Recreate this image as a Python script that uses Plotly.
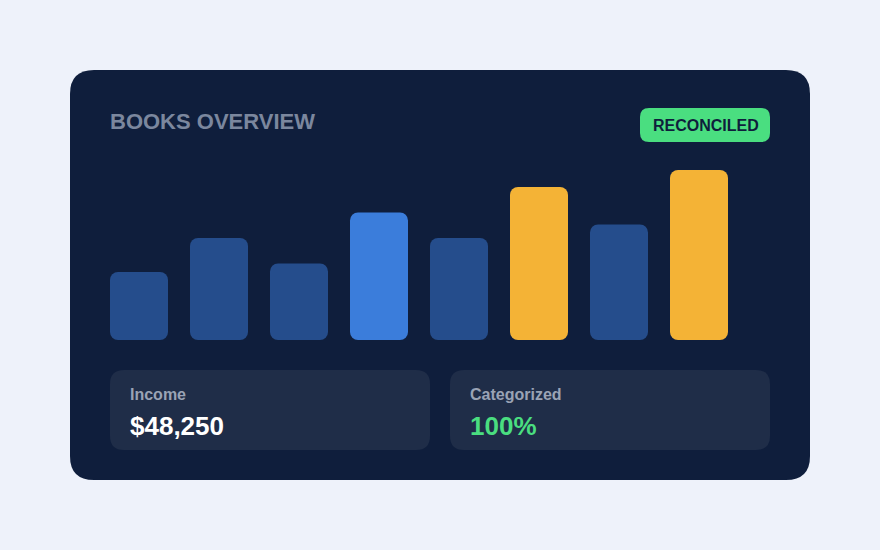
import plotly.graph_objects as go

# Bar data for the books overview card
periods = ["Jan", "Feb", "Mar", "Apr", "May", "Jun", "Jul", "Aug"]
amounts = [40, 60, 45, 75, 60, 90, 68, 100]
status = ["normal", "normal", "normal", "current", "normal", "peak", "normal", "peak"]

# Summary tiles
stat_labels = ["Income", "Categorized"]
stat_values = ["$48,250", "100%"]
badge_text = "RECONCILED"
card_title = "BOOKS OVERVIEW"

W, H = 880, 550
PAGE_BG = "#EEF2FA"
CARD_BG = "#0F1E3C"
TILE_BG = "#1F2D48"
GREEN = "#4ADE80"
status_colors = {"normal": "#254D8C", "current": "#3B7DDB", "peak": "#F4B336"}
bar_colors = [status_colors[s] for s in status]
FONT = "Liberation Sans, Arial, sans-serif"

# bar area in pixels: baseline at 340, value 100 reaches 170
BASE_PX, TOP_PX = 340, 170
RADIUS = 8
units_per_px = 100 / (BASE_PX - TOP_PX)
stub = 10 * units_per_px  # small negative piece so the bottom corners get rounded too


def px(x):
    return x / W


def py(y):
    return 1 - y / H


def rounded_rect(x0, y0, x1, y1, r, color):
    # rounded rectangle in paper coords, given pixel box
    rx, ry = r / W, r / H
    a, b, c, d = px(x0), py(y1), px(x1), py(y0)  # left, bottom, right, top
    path = (
        f"M {a + rx},{b} L {c - rx},{b} Q {c},{b} {c},{b + ry} "
        f"L {c},{d - ry} Q {c},{d} {c - rx},{d} "
        f"L {a + rx},{d} Q {a},{d} {a},{d - ry} "
        f"L {a},{b + ry} Q {a},{b} {a + rx},{b} Z"
    )
    return dict(type="path", path=path, xref="paper", yref="paper",
                fillcolor=color, line=dict(width=0), layer="below")


fig = go.Figure()

# upper part of each bar (rounded top); the axis is shifted by the stub so the
# whole visible bar still spans 0..amount
fig.add_trace(go.Bar(
    x=periods, y=[v - stub for v in amounts],
    marker=dict(color=bar_colors, cornerradius=RADIUS, line=dict(width=0)),
    hoverinfo="skip",
))
# bottom stub (rounded bottom)
fig.add_trace(go.Bar(
    x=periods, y=[-stub] * len(periods),
    marker=dict(color=bar_colors, cornerradius=RADIUS, line=dict(width=0)),
    hoverinfo="skip",
))

shapes = [
    rounded_rect(70, 70, 810, 480, 24, CARD_BG),
    rounded_rect(110, 370, 430, 450, 14, TILE_BG),
    rounded_rect(450, 370, 770, 450, 14, TILE_BG),
    rounded_rect(640, 108, 770, 142, 9, GREEN),
]

annotations = [
    dict(text=f"<b>{card_title}</b>", x=px(108), y=py(122), xanchor="left", yanchor="middle",
         font=dict(size=22, color="#7B879E", family=FONT)),
    dict(text=f"<b>{badge_text}</b>", x=px(706), y=py(125), xanchor="center", yanchor="middle",
         font=dict(size=16, color=CARD_BG, family=FONT)),
]
for i, (lab, val) in enumerate(zip(stat_labels, stat_values)):
    x0 = 128 + i * 340
    annotations.append(dict(text=f"<b>{lab}</b>", x=px(x0), y=py(394), xanchor="left", yanchor="middle",
                            font=dict(size=16, color="#9AA3B5", family=FONT)))
    annotations.append(dict(text=f"<b>{val}</b>", x=px(x0), y=py(426), xanchor="left", yanchor="middle",
                            font=dict(size=26, color="#FFFFFF" if i == 0 else GREEN, family=FONT)))
for a in annotations:
    a.update(xref="paper", yref="paper", showarrow=False)

fig.update_layout(
    width=W, height=H,
    margin=dict(l=0, r=0, t=0, b=0),
    paper_bgcolor=PAGE_BG,
    plot_bgcolor="rgba(0,0,0,0)",
    barmode="relative",
    bargap=22 / 80,
    showlegend=False,
    shapes=shapes,
    annotations=annotations,
    xaxis=dict(domain=[px(99), px(739)], range=[-0.5, 7.5], visible=False, fixedrange=True),
    yaxis=dict(domain=[py(BASE_PX), py(TOP_PX)], range=[-stub, 100 - stub],
               visible=False, fixedrange=True),
)

fig.write_html(
    "out.html",
    config={"displayModeBar": False},
    post_script="document.body.style.margin='0';document.body.style.background='#EEF2FA';",
)
